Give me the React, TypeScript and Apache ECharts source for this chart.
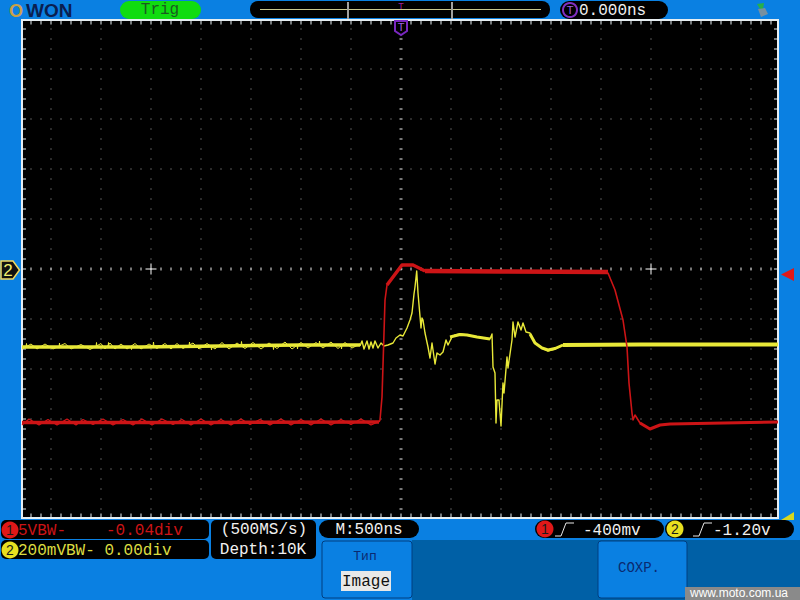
import React, { useEffect, useRef } from "react";
import * as echarts from "echarts";

// Trace readings: [time in ns, offset in divisions from screen centre]
const yellowBaseLeft = [[-3790,-1.56],[-2600,-1.56],[-1800,-1.54],[-1000,-1.52],[-410,-1.52]];
const yellowRipple = [[-3790,-1.60],[-3700,-1.50],[-3640,-1.60],[-3560,-1.50],[-3480,-1.60],[-3360,-1.49],[-3300,-1.60],[-3200,-1.51],[-3110,-1.61],[-3000,-1.49],[-2960,-1.60],[-2910,-1.48],[-2860,-1.60],[-2800,-1.50],[-2740,-1.60],[-2660,-1.49],[-2600,-1.60],[-2520,-1.50],[-2440,-1.59],[-2360,-1.49],[-2300,-1.60],[-2240,-1.49],[-2180,-1.59],[-2080,-1.48],[-2020,-1.60],[-1940,-1.49],[-1860,-1.60],[-1790,-1.47],[-1720,-1.60],[-1640,-1.48],[-1560,-1.59],[-1480,-1.47],[-1400,-1.60],[-1320,-1.48],[-1240,-1.59],[-1160,-1.46],[-1090,-1.60],[-1000,-1.47],[-930,-1.58],[-850,-1.47],[-780,-1.58],[-700,-1.46],[-630,-1.59],[-560,-1.47],[-490,-1.58],[-410,-1.50]];
const yellowSpikes = [[-3750,-1.56],[-3745,-1.49],[-3740,-1.56],[-3420,-1.56],[-3415,-1.48],[-3410,-1.56],[-3050,-1.56],[-3045,-1.47],[-3040,-1.56],[-2930,-1.55],[-2925,-1.47],[-2920,-1.55],[-2700,-1.55],[-2695,-1.61],[-2690,-1.55],[-2480,-1.55],[-2475,-1.46],[-2470,-1.55],[-2120,-1.54],[-2115,-1.46],[-2110,-1.54],[-1900,-1.54],[-1895,-1.62],[-1890,-1.54],[-1600,-1.53],[-1595,-1.45],[-1590,-1.53],[-1280,-1.53],[-1275,-1.61],[-1270,-1.53],[-1040,-1.52],[-1035,-1.60],[-1030,-1.52],[-820,-1.52],[-815,-1.44],[-810,-1.52],[-600,-1.52],[-595,-1.60],[-590,-1.52]];
const yellowTransient = [[-410,-1.54],[-390,-1.44],[-370,-1.60],[-340,-1.44],[-320,-1.60],[-300,-1.46],[-280,-1.58],[-260,-1.44],[-230,-1.58],[-200,-1.48],[-170,-1.54],[-130,-1.52],[-80,-1.48],[-50,-1.38],[-10,-1.32],[20,-1.34],[60,-1.18],[90,-1.02],[110,-0.88],[130,-0.50],[140,-0.36],[157,-0.04],[170,-0.48],[200,-1.18],[210,-0.98],[220,-1.02],[240,-1.28],[270,-1.56],[290,-1.78],[310,-1.48],[340,-1.90],[360,-1.68],[390,-1.72],[420,-1.66],[450,-1.42],[470,-1.52],[510,-1.36],[540,-1.32],[590,-1.30],[660,-1.32],[760,-1.36],[890,-1.40],[910,-1.30],[920,-1.96],[940,-2.08],[950,-3.08],[960,-2.62],[980,-2.62],[1000,-3.14],[1020,-2.28],[1030,-2.48],[1060,-1.76],[1070,-1.98],[1110,-1.42],[1120,-1.06],[1140,-1.36],[1170,-1.06],[1200,-1.22],[1220,-1.08],[1250,-1.26],[1290,-1.28],[1340,-1.48],[1410,-1.58],[1470,-1.64],[1540,-1.60],[1620,-1.52]];
const yellowPlateau = [[490,-1.36],[590,-1.31],[660,-1.32],[760,-1.36],[890,-1.40]];
const yellowBump = [[1290,-1.30],[1340,-1.48],[1410,-1.58],[1470,-1.62],[1540,-1.59],[1620,-1.52]];
const yellowBaseRight = [[1620,-1.52],[2400,-1.51],[3770,-1.51]];

const redBaseLeft = [[-3790,-3.07],[-2000,-3.07],[-220,-3.06]];
const redRipple = [[-3790,-3.12],[-3720,-3.00],[-3620,-3.12],[-3530,-3.01],[-3440,-3.12],[-3340,-3.00],[-3250,-3.12],[-3180,-3.01],[-3080,-3.11],[-2980,-3.00],[-2880,-3.12],[-2780,-3.01],[-2680,-3.12],[-2590,-3.00],[-2490,-3.12],[-2390,-3.00],[-2280,-3.11],[-2190,-3.01],[-2100,-3.12],[-2000,-3.00],[-1900,-3.12],[-1800,-3.01],[-1700,-3.12],[-1600,-3.00],[-1510,-3.11],[-1410,-3.01],[-1310,-3.12],[-1200,-3.00],[-1100,-3.12],[-1000,-3.01],[-900,-3.12],[-800,-3.00],[-700,-3.12],[-600,-3.01],[-500,-3.11],[-400,-3.00],[-300,-3.12],[-220,-3.05]];
const redEdges = [[-220,-3.06],[-210,-3.02],[-190,-2.56],[-170,-1.28],[-160,-0.62],[-140,-0.32],[-80,-0.16],[10,0.08],[120,0.08],[240,-0.04],[2070,-0.08],[2140,-0.42],[2220,-1.02],[2260,-1.56],[2280,-2.28],[2310,-2.88],[2320,-3.02],[2340,-2.92],[2390,-3.08],[2490,-3.20],[2590,-3.12],[2690,-3.10],[3770,-3.06]];
const redShoulder = [[-140,-0.32],[-80,-0.16],[10,0.08],[120,0.08],[240,-0.04]];
const redTop = [[240,-0.04],[1000,-0.05],[2070,-0.06]];
const redRingdown = [[2390,-3.08],[2490,-3.20],[2590,-3.12],[2690,-3.10],[3770,-3.06]];

const channelOne = ["5VBW-", "-0.04div"];
const channelTwo = "200mVBW- 0.00div";
const acquisition = ["(500MS/s)", "Depth:10K"];
const timebase = "M:500ns";
const triggerLevels = ["-400mv", "-1.20v"];
const triggerDelay = "0.000ns";

const MONO = "'Liberation Mono', monospace";
const SANS = "'Liberation Sans', sans-serif";
const BLUE = "#0a80e2";
const DARK = "#0060a6";
const RED = "#cc1416";
const YELLOW = "#e8e838";

function label(text: string, x: number, y: number, fill: string, align = "left", size = 16, font = MONO) {
  return { type: "text", x, y, silent: true, z: 20, style: { text, x: 0, y: 0, fill, font: `${size}px ${font}`, textAlign: align, textVerticalAlign: "middle" } };
}
function box(x: number, y: number, w: number, h: number, r: number, fill: string, z = 10, extra: any = {}) {
  return { type: "rect", silent: true, z, shape: { x, y, width: w, height: h, r }, style: { fill, ...extra } };
}
function badge(n: string, x: number, y: number, fill: string) {
  return [
    { type: "circle", silent: true, z: 15, shape: { cx: x, cy: y, r: 8.5 }, style: { fill } },
    label(n, x, y, "#1a1a1a", "center", 14, SANS),
  ];
}
function stepIcon(x: number, y: number) {
  return { type: "polyline", silent: true, z: 15, shape: { points: [[x, y + 7], [x + 6, y + 7], [x + 11, y - 6], [x + 19, y - 6]] }, style: { stroke: "#e8e8e8", lineWidth: 1, fill: "none" } };
}

function dots(points: number[][], name: string, size: any, color: string) {
  return { type: "scatter", name, data: points, symbol: "rect", symbolSize: size, silent: true, clip: false, itemStyle: { color, opacity: 1 }, z: 1 };
}
function trace(data: number[][], color: string, width: number, z: number) {
  return { type: "line", data, showSymbol: false, symbol: "none", silent: true, lineStyle: { color, width, join: "round" }, z };
}

export default function App() {
  const ref = useRef<HTMLDivElement>(null);
  useEffect(() => {
    document.body.style.margin = "0";
    const chart = echarts.init(ref.current!, null, { renderer: "svg" });

    // Graticule positions: 10 px = 100 ns = 0.2 div
    const gridDots: number[][] = [];
    const centreH: number[][] = [];
    const centreV: number[][] = [];
    const edgeH: number[][] = [];
    const edgeV: number[][] = [];
    for (let t = -3700; t <= 3700; t += 100) {
      edgeH.push([t, 4.93], [t, -4.93]);
      if (t !== -2500 && t !== 2500) centreH.push([t, 0]);
      for (let d = -4; d <= 4; d++) if (d !== 0 && t % 500 !== 0) gridDots.push([t, d]);
    }
    for (let d = -4.8; d <= 4.81; d += 0.2) {
      const v = Math.round(d * 10) / 10;
      edgeV.push([-3770, v], [3750, v]);
      centreV.push([0, v]);
      for (let t = -3500; t <= 3500; t += 500) if (t !== 0) gridDots.push([t, v]);
    }
    const crosses = [[-2500, 0], [2500, 0]];

    chart.setOption({
      animation: false,
      backgroundColor: BLUE,
      grid: { left: 22, top: 20, width: 756, height: 498, show: true, backgroundColor: "#000", borderColor: "#e6eef2", borderWidth: 2 },
      xAxis: { type: "value", min: -3790, max: 3770, axisLine: { show: false }, axisTick: { show: false }, axisLabel: { show: false }, splitLine: { show: false } },
      yAxis: { type: "value", min: -4.98, max: 4.98, axisLine: { show: false }, axisTick: { show: false }, axisLabel: { show: false }, splitLine: { show: false } },
      series: [
        dots(gridDots, "grid", [1, 1], "#a8a8a8"),
        dots(centreH, "centreH", [1, 3], "#f0f0f0"),
        dots(centreV, "centreV", [3, 1], "#f0f0f0"),
        dots(edgeH, "edgeH", [1, 4], "#e6eef2"),
        dots(edgeV, "edgeV", [4, 1], "#e6eef2"),
        dots(crosses, "crossH", [11, 1], "#ffffff"),
        dots(crosses, "crossV", [1, 11], "#ffffff"),
        trace(yellowRipple, YELLOW, 1, 3),
        trace(yellowSpikes, YELLOW, 1, 3),
        trace(yellowBaseLeft, YELLOW, 3.5, 3),
        trace(yellowTransient, YELLOW, 1.4, 3),
        trace(yellowPlateau, YELLOW, 3, 3),
        trace(yellowBump, YELLOW, 3, 3),
        trace(yellowBaseRight, YELLOW, 4, 3),
        trace(redRipple, "#d81418", 1.2, 4),
        trace(redBaseLeft, RED, 3.5, 4),
        trace(redEdges, RED, 1.6, 4),
        trace(redShoulder, RED, 3.5, 4),
        trace(redTop, RED, 4.5, 4),
        trace(redRingdown, RED, 3, 4),
      ],
      graphic: [
        box(412, 540, 388, 60, 0, DARK, 2),
        // logo
        { type: "text", x: 9, y: 10.5, silent: true, z: 20, style: { text: "O", x: 0, y: 0, fill: "#c8a048", font: `bold 18px ${SANS}`, textAlign: "left", textVerticalAlign: "middle" } },
        { type: "text", x: 26, y: 10.5, silent: true, z: 20, style: { text: "WON", x: 0, y: 0, fill: "#0a1e50", font: `bold 19px ${SANS}`, textAlign: "left", textVerticalAlign: "middle" } },
        // header
        box(120, 1, 81, 18, 9, "#10dc10"),
        label("Trig", 160, 10, "#1a5a20", "center"),
        box(250, 1, 300, 17, 8, "#000"),
        { type: "line", silent: true, z: 12, shape: { x1: 260, y1: 9.5, x2: 541, y2: 9.5 }, style: { stroke: "#c8c890", lineWidth: 1 } },
        box(347, 2, 2, 17, 0, "#a0a0a0", 13),
        box(451, 2, 2, 17, 0, "#a0a0a0", 13),
        label("T", 401, 6, "#a020a0", "center", 9, SANS),
        box(560, 1, 108, 18, 9, "#000"),
        { type: "circle", silent: true, z: 12, shape: { cx: 570, cy: 10, r: 7 }, style: { fill: "#000", stroke: "#8030c0", lineWidth: 2 } },
        label("T", 570, 10, "#a060e0", "center", 11, SANS),
        label(triggerDelay, 579, 11, "#f0f0f0"),
        // USB icon
        { type: "polygon", silent: true, z: 12, shape: { points: [[757, 4], [764, 3], [763, 9], [760, 9]] }, style: { fill: "#28b048" } },
        { type: "polygon", silent: true, z: 12, shape: { points: [[758, 9], [765, 8], [768, 14], [761, 17]] }, style: { fill: "#7890a0" } },
        // trigger position marker
        { type: "polygon", silent: true, z: 12, shape: { points: [[395, 21], [407, 21], [407, 31], [401, 35], [395, 31]] }, style: { fill: "#000", stroke: "#7a28c0", lineWidth: 2 } },
        label("T", 401, 27, "#a060e0", "center", 11, SANS),
        // level markers
        { type: "polygon", silent: true, z: 12, shape: { points: [[1, 261], [13, 261], [19.5, 270], [13, 279], [1, 279]] }, style: { fill: "#101010", stroke: "#f0d860", lineWidth: 1.5 } },
        label("2", 8, 270, "#f0f070", "center", 17, SANS),
        { type: "polygon", silent: true, z: 12, shape: { points: [[781, 274.5], [794, 268], [794, 281]] }, style: { fill: "#e01818" } },
        { type: "polygon", silent: true, z: 12, shape: { points: [[781, 520], [794, 520], [794, 512]] }, style: { fill: "#d8d820" } },
        // channel status
        box(1, 520, 208, 19, 5, "#000"),
        box(1, 540, 208, 19, 5, "#000"),
        ...badge("1", 10, 530, "#e01818"),
        ...badge("2", 10, 550, "#e8e020"),
        label(channelOne[0], 18, 531, RED),
        label(channelOne[1], 106, 531, RED),
        label(channelTwo, 18, 551, "#dcdc40"),
        box(211, 520, 105, 39, 5, "#000"),
        label(acquisition[0], 264, 530, "#f0f0f0", "center"),
        label(acquisition[1], 263, 550, "#f0f0f0", "center"),
        box(319, 520, 100, 18, 9, "#000"),
        label(timebase, 369, 530, "#f0f0f0", "center"),
        // menu buttons
        box(322, 541, 90, 57, 3, "#0a80e2", 11, { stroke: "#003e80", lineWidth: 1 }),
        label("Тип", 365, 556, "#0a2a70", "center", 13),
        box(341, 571, 50, 20, 0, "#e8e8e8", 12),
        label("Image", 366, 582, "#101010", "center"),
        box(598, 541, 89, 57, 3, "#0a80e2", 11, { stroke: "#003e80", lineWidth: 1 }),
        label("СОХР.", 639, 568, "#0a2a70", "center", 14),
        // trigger status
        box(535, 520, 129, 18, 9, "#000"),
        ...badge("1", 545, 529, "#e01818"),
        stepIcon(555, 529),
        label(triggerLevels[0], 583, 531, "#f0f0f0"),
        box(665, 520, 129, 18, 9, "#000"),
        ...badge("2", 675, 529, "#e8e020"),
        stepIcon(693, 529),
        label(triggerLevels[1], 713, 531, "#f0f0f0"),
        // watermark
        box(685, 587, 115, 13, 0, "#8a8a8a", 25),
        { ...label("www.moto.com.ua", 690, 593, "#ffffff", "left", 12, SANS), z: 26 },
      ],
    });
    return () => chart.dispose();
  }, []);
  return <div ref={ref} style={{ position: "fixed", left: 0, top: 0, width: 800, height: 600 }} />;
}
